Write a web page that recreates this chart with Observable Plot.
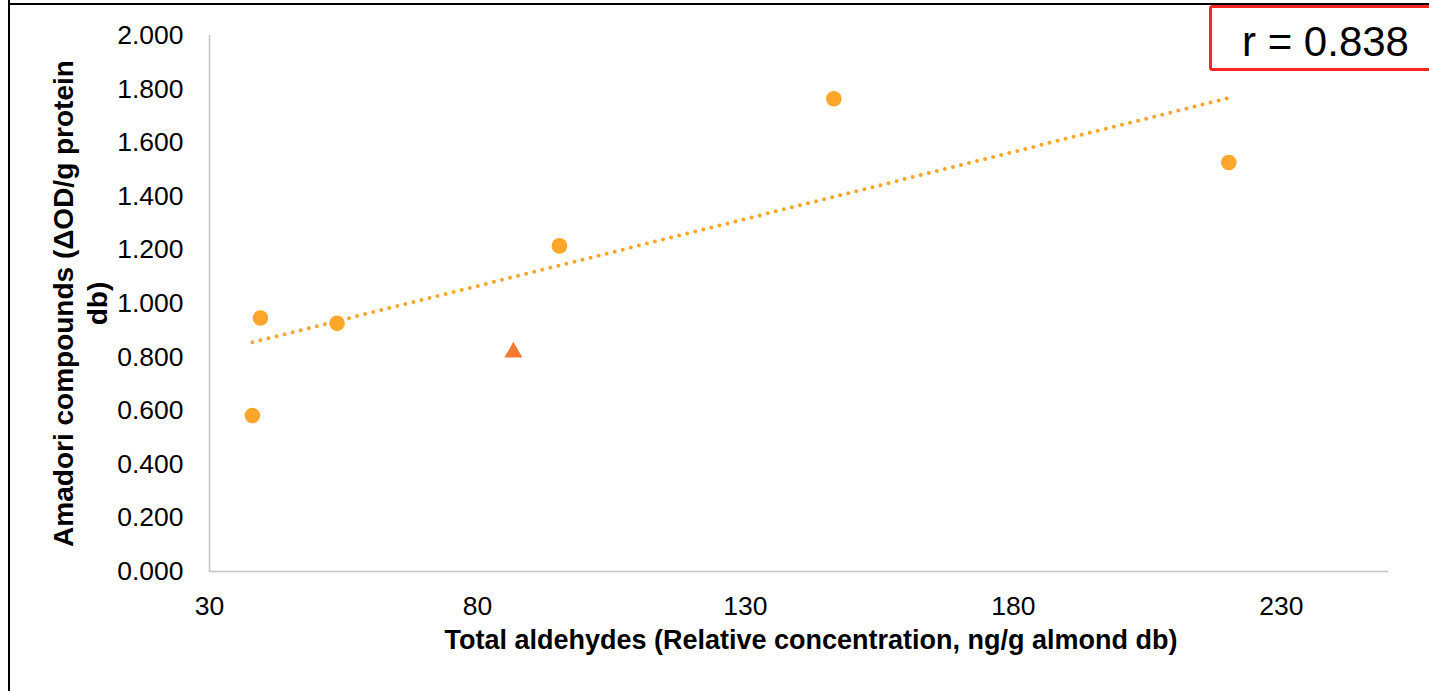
<!DOCTYPE html>
<html>
<head>
<meta charset="utf-8">
<script src="https://cdn.jsdelivr.net/npm/d3@7"></script>
<script src="https://cdn.jsdelivr.net/npm/@observablehq/plot@0.6"></script>
<style>
html, body { margin: 0; padding: 0; background: #fff; }
#wrap { position: relative; width: 1429px; height: 691px; overflow: hidden; background: #fff; }
#chart { position: absolute; left: 0; top: 0; }
#overlay { position: absolute; left: 0; top: 0; pointer-events: none; }
</style>
</head>
<body>
<div id="wrap">
  <div id="chart"></div>
  <svg id="overlay" width="1429" height="691"></svg>
</div>
<script>
// Data
const circleX = [38.0, 39.5, 53.8, 95.3, 146.5, 220.2];
const circleY = [0.582, 0.946, 0.926, 1.215, 1.764, 1.526];
const triangleX = [86.7];
const triangleY = [0.818];
const xTicks = [30, 80, 130, 180, 230];
const yTicks = [0, 0.2, 0.4, 0.6, 0.8, 1.0, 1.2, 1.4, 1.6, 1.8, 2.0];
const xTitle = "Total aldehydes (Relative concentration, ng/g almond db)";
const yTitle = "Amadori compounds (ΔOD/g protein\ndb)";
const rLabel = "r = 0.838";

const circles = circleX.map((x, i) => ({x, y: circleY[i]}));
const triangles = triangleX.map((x, i) => ({x, y: triangleY[i]}));

const orange = "#FFA62B";
const orange2 = "#F47A32";
const axisGray = "#c4c4c4";
const font = "'Liberation Sans', Arial, sans-serif";

const chart = Plot.plot({
  width: 1429,
  height: 691,
  marginLeft: 209,
  marginRight: 41,
  marginTop: 35,
  marginBottom: 120,
  style: {fontFamily: font, fontSize: "26.5px", color: "#000", background: "transparent", overflow: "visible"},
  x: {domain: [30, 250], ticks: xTicks, tickSize: 0, tickPadding: 25, label: null, tickFormat: d3.format("d")},
  y: {domain: [0, 2], ticks: yTicks, tickSize: 0, tickPadding: 26, label: null, tickFormat: d3.format(".3f")},
  marks: [
    Plot.ruleX([30], {stroke: axisGray, strokeWidth: 1.5}),
    Plot.ruleY([0], {stroke: axisGray, strokeWidth: 1.5}),
    Plot.linearRegressionY(circles, {x: "x", y: "y", ci: 0, stroke: orange, strokeWidth: 4, strokeDasharray: "0 8.3", strokeLinecap: "round"}),
    Plot.dot(circles, {x: "x", y: "y", r: 7.8, fill: orange, stroke: null}),
    Plot.dot(triangles, {x: "x", y: "y", symbol: "triangle", r: 6.7, fill: orange2, stroke: null}),
    Plot.text([yTitle], {frameAnchor: "left", textAnchor: "middle", dx: -130, rotate: -90, text: d => d, fontWeight: "bold", fontSize: 28, fill: "#000", lineHeight: 1.2}),
    Plot.text([xTitle], {frameAnchor: "bottom", dx: 12, dy: 77, text: d => d, fontWeight: "bold", fontSize: 27, fill: "#000"})
  ]
});
document.getElementById("chart").appendChild(chart);

// Decorations: outer frame and the highlighted correlation box
const ov = d3.select("#overlay");
ov.append("line").attr("x1", 9).attr("y1", 0).attr("x2", 9).attr("y2", 691).attr("stroke", "#000").attr("stroke-width", 2);
ov.append("line").attr("x1", 8).attr("y1", 4).attr("x2", 1429).attr("y2", 4).attr("stroke", "#000").attr("stroke-width", 2);
ov.append("rect").attr("x", 1210.5).attr("y", 6.5).attr("width", 260).attr("height", 63).attr("rx", 2)
  .attr("fill", "#fff").attr("stroke", "#ff2424").attr("stroke-width", 3);
ov.append("text").attr("x", 1242).attr("y", 56).attr("font-family", font).attr("font-size", 42)
  .attr("fill", "#000").text(rLabel);
</script>
</body>
</html>
